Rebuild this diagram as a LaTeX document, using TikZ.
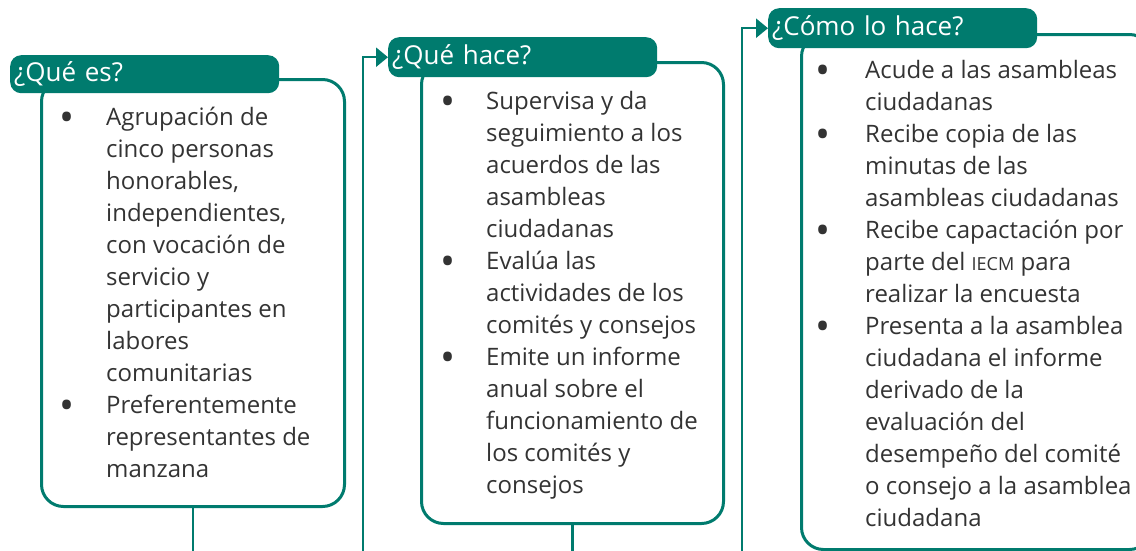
\documentclass[tikz,border=0pt]{standalone}
\usepackage{fontspec}
\setmainfont{Open Sans}
\usetikzlibrary{arrows.meta}
\definecolor{iecmgreen}{HTML}{007B6E}
\definecolor{textgray}{HTML}{333333}
\newcommand{\sigla}[1]{{\fontsize{18}{18}\selectfont #1}}
\newcommand{\bul}{{\fontsize{40}{32}\selectfont\raisebox{-6pt}{\textbullet}}}
\tikzset{
  frame/.style={draw=iecmgreen,line width=3pt,rounded corners=22pt,
    anchor=north west,inner sep=0pt},
  header/.style={fill=iecmgreen,text=white,rounded corners=11pt,anchor=north west,
    minimum height=40pt,text width=261pt,inner xsep=4pt,align=left,
    font=\fontsize{26}{28}\selectfont},
  items/.style={text=textgray,anchor=base west,inner sep=0pt,
    font=\fontsize{24}{32}\selectfont},
  link/.style={draw=iecmgreen,line width=2.5pt},
  linkarrow/.style={link,-{Triangle[length=12pt,width=19pt]}},
}

\begin{document}
\begin{tikzpicture}[x=1pt,y=-1pt]
  \useasboundingbox (0,0) rectangle (1136,550);
  % ¿Que es?
  \node[frame,minimum width=303pt,minimum height=427pt] (qbox) at (40,78) {};
  \node[header,minimum height=38pt] (qhead) at (10,55) {¿Qué es?};
  \node[items] (qtext) at (59,125) {\begin{tabular}[t]{@{}p{47pt}@{}l@{}}
    \bul & Agrupación de\\
    & cinco personas\\
    & honorables,\\
    & independientes,\\
    & con vocación de\\
    & servicio y\\
    & participantes en\\
    & labores\\
    & comunitarias\\
    \bul & Preferentemente\\
    & representantes de\\
    & manzana
  \end{tabular}};
  \coordinate (qout) at (qbox.south |- 0,560);
  \draw[link] (qbox.south) -- (qout);

  % ¿Que hace?
  \node[frame,minimum width=302pt,minimum height=461pt] (hbox) at (420,61) {};
  \node[header] (hhead) at (388,37) {¿Qué hace?};
  \node[items] (htext) at (440,109) {\begin{tabular}[t]{@{}p{46pt}@{}l@{}}
    \bul & Supervisa y da\\
    & seguimiento a los\\
    & acuerdos de las\\
    & asambleas\\
    & ciudadanas\\
    \bul & Evalúa las\\
    & actividades de los\\
    & comités y consejos\\
    \bul & Emite un informe\\
    & anual sobre el\\
    & funcionamiento de\\
    & los comités y\\
    & consejos
  \end{tabular}};
  \coordinate (hin) at (363,560);
  \draw[linkarrow] (hin) |- (hhead.west);
  \coordinate (hout) at (hbox.south |- 0,560);
  \draw[link] (hbox.south) -- (hout);

  % ¿Como lo hace?
  \node[frame,minimum width=350pt,minimum height=515pt] (cbox) at (800,33) {};
  \node[header] (chead) at (768,8) {¿Cómo lo hace?};
  \node[items] (ctext) at (815,78) {\begin{tabular}[t]{@{}p{50pt}@{}l@{}}
    \bul & Acude a las asambleas\\
    & ciudadanas\\
    \bul & Recibe copia de las\\
    & minutas de las\\
    & asambleas ciudadanas\\
    \bul & Recibe capactación por\\
    & parte del \sigla{IECM} para\\
    & realizar la encuesta\\
    \bul & Presenta a la asamblea\\
    & ciudadana el informe\\
    & derivado de la\\
    & evaluación del\\
    & desempeño del comité\\
    & o consejo a la asamblea\\
    & ciudadana
  \end{tabular}};
  \coordinate (cin) at (742,560);
  \draw[linkarrow] (cin) |- (chead.west);
\end{tikzpicture}
\end{document}
